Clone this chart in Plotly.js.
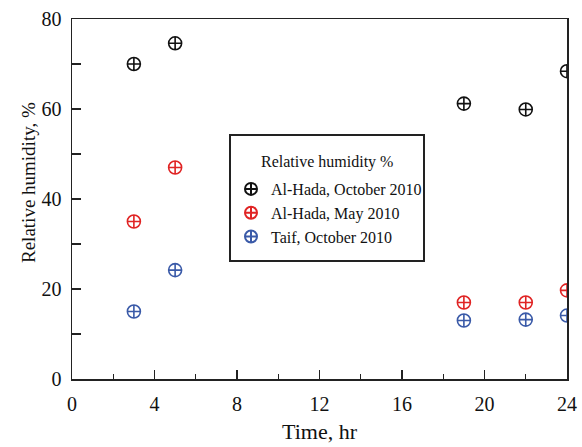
<!DOCTYPE html>
<html><head><meta charset="utf-8">
<script src="https://cdn.plot.ly/plotly-3.0.1.min.js"></script>
<style>html,body{margin:0;padding:0;background:#fff}#c{width:582px;height:447px}</style>
</head><body><div id="c"></div>
<script>
const hours = [3, 5, 19, 22, 24];
const hadaOct = [70, 74.6, 61.2, 59.9, 68.4];
const hadaMay = [35, 47, 17, 17, 19.7];
const taifOct = [15, 24.2, 13, 13.2, 14.1];
const names = ["Al-Hada, October 2010", "Al-Hada, May 2010", "Taif, October 2010"];
const legendTitle = "Relative humidity %";
const yTitle = "Relative humidity, %";
const colors = ["#111111", "#e02424", "#3a5aa8"];
const series = [hadaOct, hadaMay, taifOct];
const xTicks = [0, 4, 8, 12, 16, 20, 24];
const yTicks = [0, 20, 40, 60, 80];

const traces = series.map((s, i) => ({
  x: hours, y: s, type: "scatter", mode: "markers", name: names[i], legendgroup: "g" + i,
  marker: {symbol: "circle-cross-open", size: 13, color: colors[i], line: {width: 1.6, color: colors[i]}}
}));

const fam = "Liberation Serif, Times New Roman, serif";
const L = 72, R = 567, T = 19, B = 379;
const px = v => (v - L) / (R - L);
const py = v => (B - v) / (B - T);

const layout = {
  width: 582, height: 447,
  margin: {l: 72, r: 15, t: 19, b: 68},
  paper_bgcolor: "#fff", plot_bgcolor: "#fff",
  font: {family: fam, color: "#111"},
  showlegend: true,
  legend: {
    x: px(231), y: py(172), xanchor: "left", yanchor: "top",
    borderwidth: 0, bgcolor: "rgba(0,0,0,0)",
    font: {family: fam, size: 16, color: "#111"},
    itemsizing: "constant", tracegroupgap: 0
  },
  shapes: [{
    type: "rect", xref: "paper", yref: "paper",
    x0: px(230), x1: px(424), y0: py(135), y1: py(261),
    line: {color: "#222", width: 2}, fillcolor: "rgba(0,0,0,0)"
  }],
  annotations: [{
    xref: "paper", yref: "paper", x: px(327), y: py(162), xanchor: "center", yanchor: "middle",
    text: legendTitle, showarrow: false, font: {family: fam, size: 16, color: "#111"}
  }, {
    xref: "paper", yref: "paper", x: px(28), y: py(183), xanchor: "center", yanchor: "middle",
    text: yTitle, textangle: -90, showarrow: false, font: {family: fam, size: 19, color: "#111"}
  }],
  xaxis: {
    range: [0, 24], tickvals: xTicks, ticktext: xTicks.map(String),
    showgrid: false, zeroline: false, showline: true, linecolor: "#222", linewidth: 1.5, mirror: true,
    ticks: "inside", ticklen: 9, tickwidth: 1.2, tickcolor: "#222", ticklabelstandoff: 6,
    minor: {dtick: 2, ticks: "inside", ticklen: 5, tickwidth: 1.2, tickcolor: "#222", showgrid: false},
    tickfont: {family: fam, size: 20, color: "#111"},
    title: {text: "Time, hr", font: {family: fam, size: 22, color: "#111"}, standoff: 10}
  },
  yaxis: {
    range: [0, 80], tickvals: yTicks, ticktext: yTicks.map(String),
    showgrid: false, zeroline: false, showline: true, linecolor: "#222", linewidth: 1.5, mirror: true,
    ticks: "inside", ticklen: 9, tickwidth: 1.2, tickcolor: "#222", ticklabelstandoff: 5,
    minor: {dtick: 10, ticks: "inside", ticklen: 9, tickwidth: 1.2, tickcolor: "#222", showgrid: false},
    tickfont: {family: fam, size: 20, color: "#111"}
  }
};
Plotly.newPlot("c", traces, layout, {displayModeBar: false, staticPlot: true});
</script></body></html>
